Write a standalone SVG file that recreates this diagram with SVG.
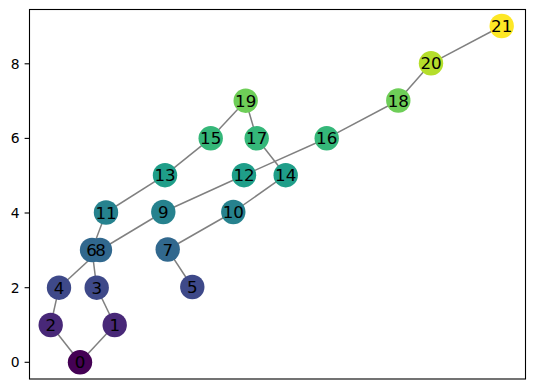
<svg xmlns="http://www.w3.org/2000/svg" width="534" height="389" viewBox="0 0 534 389">
<style>
.e{stroke:#808080;stroke-width:1.5;fill:none}
.n text{font-family:"DejaVu Sans",sans-serif;font-size:16.7px;text-anchor:middle;dominant-baseline:central;fill:#000}
.t{font-family:"DejaVu Sans",sans-serif;font-size:13.9px;text-anchor:end;dominant-baseline:central;fill:#000}
.tk{stroke:#000;stroke-width:1.1}
</style>
<rect width="534" height="389" fill="#fff"/>
<g id="axes">
<rect x="29.5" y="9.5" width="496" height="369.5" fill="none" stroke="#000" stroke-width="1.1"/>
<line class="tk" x1="24.6" y1="362.3" x2="29.5" y2="362.3"/>
<line class="tk" x1="24.6" y1="287.7" x2="29.5" y2="287.7"/>
<line class="tk" x1="24.6" y1="213" x2="29.5" y2="213"/>
<line class="tk" x1="24.6" y1="138.4" x2="29.5" y2="138.4"/>
<line class="tk" x1="24.6" y1="63.8" x2="29.5" y2="63.8"/>
<text class="t" x="19.5" y="362.3">0</text>
<text class="t" x="19.5" y="287.7">2</text>
<text class="t" x="19.5" y="213">4</text>
<text class="t" x="19.5" y="138.4">6</text>
<text class="t" x="19.5" y="63.8">8</text>
</g>
<g id="edges">
<line class="e" x1="80" y1="362.3" x2="114.7" y2="325"/>
<line class="e" x1="80" y1="362.3" x2="50.7" y2="325"/>
<line class="e" x1="50.7" y1="325" x2="59" y2="287.7"/>
<line class="e" x1="114.7" y1="325" x2="96.7" y2="287.7"/>
<line class="e" x1="59" y1="287.7" x2="100" y2="250"/>
<line class="e" x1="96.7" y1="287.7" x2="92" y2="250"/>
<line class="e" x1="92" y1="250" x2="106" y2="212.5"/>
<line class="e" x1="100" y1="250" x2="163.3" y2="212"/>
<line class="e" x1="106" y1="212.5" x2="165" y2="175.2"/>
<line class="e" x1="165" y1="175.2" x2="210.7" y2="138.3"/>
<line class="e" x1="210.7" y1="138.3" x2="245.7" y2="100.7"/>
<line class="e" x1="245.7" y1="100.7" x2="256.7" y2="138.3"/>
<line class="e" x1="256.7" y1="138.3" x2="285.7" y2="175.2"/>
<line class="e" x1="285.7" y1="175.2" x2="233.3" y2="212"/>
<line class="e" x1="233.3" y1="212" x2="167.7" y2="249.5"/>
<line class="e" x1="167.7" y1="249.5" x2="192.3" y2="287"/>
<line class="e" x1="163.3" y1="212" x2="244" y2="175.2"/>
<line class="e" x1="244" y1="175.2" x2="326.7" y2="138.3"/>
<line class="e" x1="326.7" y1="138.3" x2="398.3" y2="100.5"/>
<line class="e" x1="398.3" y1="100.5" x2="431" y2="63.3"/>
<line class="e" x1="431" y1="63.3" x2="501.7" y2="26"/>
</g>
<g class="n" id="n0"><circle cx="80" cy="362.3" r="12.2" fill="#440154"/><text x="80" y="362.3">0</text></g>
<g class="n" id="n1"><circle cx="114.7" cy="325" r="12.2" fill="#482878"/><text x="114.7" y="325">1</text></g>
<g class="n" id="n2"><circle cx="50.7" cy="325" r="12.2" fill="#482878"/><text x="50.7" y="325">2</text></g>
<g class="n" id="n3"><circle cx="96.7" cy="287.7" r="12.2" fill="#3e4989"/><text x="96.7" y="287.7">3</text></g>
<g class="n" id="n4"><circle cx="59" cy="287.7" r="12.2" fill="#3e4989"/><text x="59" y="287.7">4</text></g>
<g class="n" id="n5"><circle cx="192.3" cy="287" r="12.2" fill="#3e4989"/><text x="192.3" y="287">5</text></g>
<g class="n" id="n6_n8">
<circle id="n6" cx="92" cy="250" r="12.2" fill="#31688e"/>
<circle id="n8" cx="100" cy="250" r="12.2" fill="#31688e"/>
<text id="n6-label" x="91.5" y="250">6</text>
<text id="n8-label" x="100.5" y="250">8</text>
</g>
<g class="n" id="n7"><circle cx="167.7" cy="249.5" r="12.2" fill="#31688e"/><text x="167.7" y="249.5">7</text></g>
<g class="n" id="n9"><circle cx="163.3" cy="212" r="12.2" fill="#26828e"/><text x="163.3" y="212">9</text></g>
<g class="n" id="n10"><circle cx="233.3" cy="212" r="12.2" fill="#26828e"/><text x="233.3" y="212">10</text></g>
<g class="n" id="n11"><circle cx="106" cy="212.5" r="12.2" fill="#26828e"/><text x="106" y="212.5">11</text></g>
<g class="n" id="n12"><circle cx="244" cy="175.2" r="12.2" fill="#1f9e89"/><text x="244" y="175.2">12</text></g>
<g class="n" id="n13"><circle cx="165" cy="175.2" r="12.2" fill="#1f9e89"/><text x="165" y="175.2">13</text></g>
<g class="n" id="n14"><circle cx="285.7" cy="175.2" r="12.2" fill="#1f9e89"/><text x="285.7" y="175.2">14</text></g>
<g class="n" id="n15"><circle cx="210.7" cy="138.3" r="12.2" fill="#35b779"/><text x="210.7" y="138.3">15</text></g>
<g class="n" id="n16"><circle cx="326.7" cy="138.3" r="12.2" fill="#35b779"/><text x="326.7" y="138.3">16</text></g>
<g class="n" id="n17"><circle cx="256.7" cy="138.3" r="12.2" fill="#35b779"/><text x="256.7" y="138.3">17</text></g>
<g class="n" id="n18"><circle cx="398.3" cy="100.5" r="12.2" fill="#6ece58"/><text x="398.3" y="100.5">18</text></g>
<g class="n" id="n19"><circle cx="245.7" cy="100.7" r="12.2" fill="#6ece58"/><text x="245.7" y="100.7">19</text></g>
<g class="n" id="n20"><circle cx="431" cy="63.3" r="12.2" fill="#b5de2b"/><text x="431" y="63.3">20</text></g>
<g class="n" id="n21"><circle cx="501.7" cy="26" r="12.2" fill="#fde725"/><text x="501.7" y="26">21</text></g>
</svg>
